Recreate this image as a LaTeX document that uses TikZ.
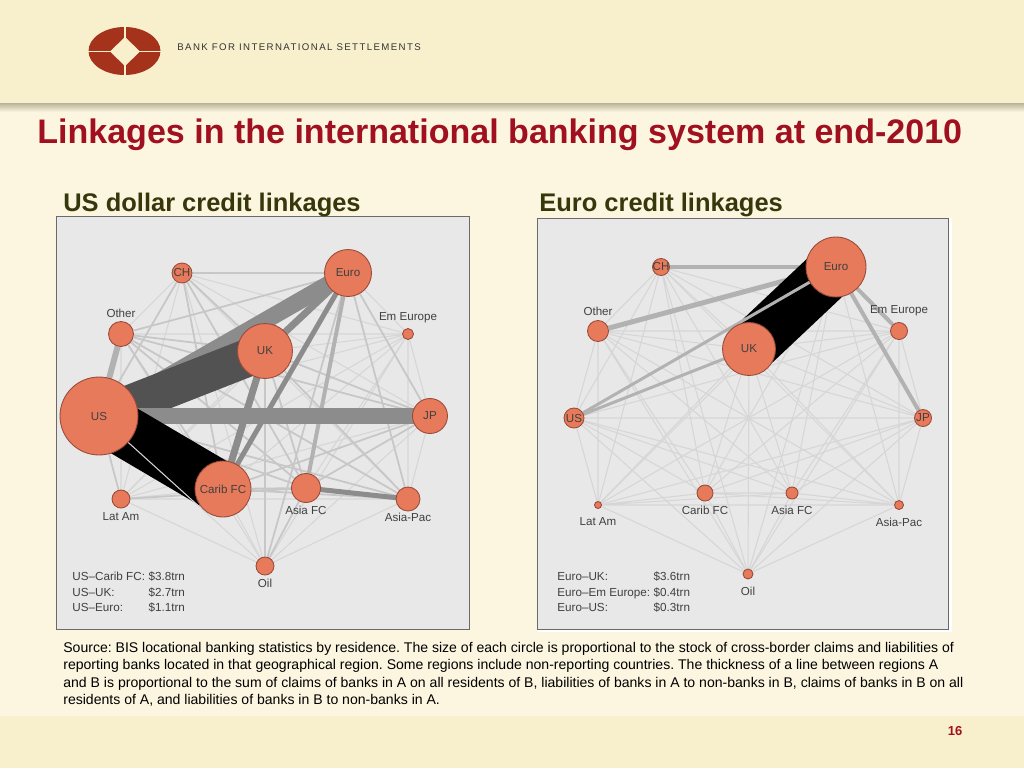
\documentclass[tikz,border=0pt]{standalone}
\usepackage{fontspec}
\setmainfont{Liberation Sans}
\definecolor{pagebg}{HTML}{FCF6E0}
\definecolor{bandbg}{HTML}{F8F0CC}
\definecolor{shadowbg}{HTML}{B9B399}
\definecolor{titlered}{HTML}{A01020}
\definecolor{headolive}{HTML}{36380C}
\definecolor{logored}{HTML}{A5321A}
\definecolor{panelbg}{HTML}{E8E8E8}
\definecolor{panelline}{HTML}{6A6A6A}
\definecolor{hubfill}{HTML}{E77A5A}
\definecolor{hubline}{HTML}{9A4A38}
\definecolor{textgrey}{HTML}{404040}
\pgfdeclarelayer{back}
\pgfdeclarelayer{links}
\pgfsetlayers{back,links,main}
\tikzset{
  hub/.style={circle,draw=hubline,line width=0.5pt,fill=hubfill,inner sep=0pt,minimum size=#1*0.04cm},
  tag/.style={inner sep=0pt,text=textgrey,font=\fontsize{6.6}{7.5}\selectfont},
  keybox/.style={inner sep=0pt,anchor=west,text=textgrey,font=\fontsize{6.65}{8.6}\selectfont},
  panel/.style={draw=panelline,line width=0.5pt,fill=panelbg},
  faint/.style={draw=black!16,line width=0.6pt},
  mid/.style={draw=black!22,line width=1pt},
  heavy/.style={draw=black!30,line width=#1*0.569pt},
  bar/.style={draw=black!45,line width=#1*0.569pt},
}
\begin{document}
\begin{tikzpicture}[x=0.02cm,y=-0.02cm]
\useasboundingbox (0,0) rectangle (1024,768);
\begin{pgfonlayer}{back}
\fill [pagebg] (0,0) rectangle (1024,768);
\shade [top color=shadowbg,bottom color=pagebg] (0,103) rectangle (1024,112);
\fill [bandbg] (0,0) rectangle (1024,103);
\fill [bandbg] (0,716) rectangle (1024,768);
\fill [logored] (124.5,51) ellipse (36 and 24);
\fill [bandbg] (110,51.5) -- (125,37) -- (140,51.5) -- (125,66) -- cycle;
\draw [bandbg,line width=0.9pt] (88,51.5) -- (162,51.5) (125,26) -- (125,76);
\fill [white] (537,218) rectangle (952,632);
\draw [panel] (56,216) rectangle (469,629);
\draw [panel] (537,218) rectangle (948,629);
\end{pgfonlayer}

\node [inner sep=0pt,anchor=west,text=black!80,font=\fontsize{5.5}{7}\selectfont\addfontfeature{LetterSpace=14.4}] (bisname) at (177,47) {BANK FOR INTERNATIONAL SETTLEMENTS};
\node [inner sep=0pt,anchor=west,text=titlered,font=\fontsize{19.37}{22}\selectfont\bfseries] (title) at (37,135) {Linkages in the international banking system at end-2010};
\node [inner sep=0pt,anchor=west,text=headolive,font=\fontsize{14.5}{16}\selectfont\bfseries] (lhead) at (63,205) {US dollar credit linkages};
\node [inner sep=0pt,anchor=west,text=headolive,font=\fontsize{14.5}{16}\selectfont\bfseries] (rhead) at (539,205) {Euro credit linkages};
\node [inner sep=0pt,anchor=north west,align=left,font=\fontsize{8}{9.85}\selectfont\frenchspacing] (source) at (63,642) {Source: BIS locational banking statistics by residence. The size of each circle is proportional to the stock of cross-border claims and liabilities of\\
reporting banks located in that geographical region. Some regions include non-reporting countries. The thickness of a line between regions A\\
and B is proportional to the sum of claims of banks in A on all residents of B, liabilities of banks in A to non-banks in B, claims of banks in B on all\\
residents of A, and liabilities of banks in B to non-banks in A.};
\node [inner sep=0pt,text=titlered,font=\fontsize{7.4}{9}\selectfont\bfseries] (pageno) at (955,731) {16};

\node [hub=10,label={[tag]center:CH}] (lCH) at (182,273) {};
\node [hub=23.5,label={[tag]center:Euro}] (lEuro) at (348,273) {};
\node [hub=12.5] (lOther) at (121,334) {};
\node [hub=27.5,label={[tag]center:UK}] (lUK) at (265,351) {};
\node [hub=5.5] (lEmEur) at (408,334) {};
\node [hub=39,label={[tag]center:US}] (lUS) at (99,416) {};
\node [hub=17.5,label={[tag]center:JP}] (lJP) at (430,416) {};
\node [hub=9] (lLatAm) at (121,499) {};
\node [hub=28,label={[tag]center:Carib FC}] (lCarib) at (223,489) {};
\node [hub=14.5] (lAsiaFC) at (306,488) {};
\node [hub=12] (lAsiaPac) at (408,499) {};
\node [hub=9] (lOil) at (265,566) {};
\node [tag] (lOtherT) at (121,313) {Other};
\node [tag] (lEmEurT) at (408,318) {Em Europe};
\node [tag] (lLatAmT) at (121,517) {Lat Am};
\node [tag] (lAsiaFCT) at (306,510) {Asia FC};
\node [tag] (lAsiaPacT) at (408,517) {Asia-Pac};
\node [tag] (lOilT) at (265,583) {Oil};
\node [keybox] (lkey) at (72,593) {\begin{tabular}{@{}l@{\hspace{2pt}}l@{}}US--Carib FC: & \$3.8trn\\ US--UK: & \$2.7trn\\ US--Euro: & \$1.1trn\end{tabular}};

\node [hub=8.5,label={[tag]center:CH}] (rCH) at (661,267) {};
\node [hub=30,label={[tag]center:Euro}] (rEuro) at (836,267) {};
\node [hub=10.5] (rOther) at (598,331) {};
\node [hub=26.5,label={[tag]center:UK}] (rUK) at (749,349) {};
\node [hub=8.5] (rEmEur) at (899,331) {};
\node [hub=10,label={[tag]center:US}] (rUS) at (574,418) {};
\node [hub=8.5,label={[tag]center:JP}] (rJP) at (923,418) {};
\node [hub=3.5] (rLatAm) at (598,505) {};
\node [hub=8] (rCarib) at (705,493) {};
\node [hub=6] (rAsiaFC) at (792,493) {};
\node [hub=4.5] (rAsiaPac) at (899,505) {};
\node [hub=5] (rOil) at (748,574) {};
\node [tag] (rOtherT) at (598,311) {Other};
\node [tag] (rEmEurT) at (899,311) {Em Europe};
\node [tag] (rLatAmT) at (598,522) {Lat Am};
\node [tag] (rCaribT) at (705,510) {Carib FC};
\node [tag] (rAsiaFCT) at (792,510) {Asia FC};
\node [tag] (rAsiaPacT) at (899,522) {Asia-Pac};
\node [tag] (rOilT) at (748,591) {Oil};
\node [keybox] (rkey) at (557,593) {\begin{tabular}{@{}l@{\hspace{2pt}}l@{}}Euro--UK: & \$3.6trn\\ Euro--Em Europe: & \$0.4trn\\ Euro--US: & \$0.3trn\end{tabular}};

\begin{pgfonlayer}{links}
\draw [faint] (lCH) -- (lOther) (lCH) -- (lEmEur) (lCH) -- (lJP) (lCH) -- (lLatAm) (lCH) -- (lAsiaPac) (lCH) -- (lOil);
\draw [faint] (lEuro) -- (lEmEur) (lEuro) -- (lLatAm) (lOther) -- (lEmEur) (lOther) -- (lLatAm) (lOther) -- (lOil);
\draw [faint] (lUK) -- (lEmEur) (lUK) -- (lLatAm) (lEmEur) -- (lUS) (lEmEur) -- (lJP) (lEmEur) -- (lLatAm) (lEmEur) -- (lCarib);
\draw [faint] (lEmEur) -- (lAsiaFC) (lEmEur) -- (lAsiaPac) (lEmEur) -- (lOil) (lJP) -- (lLatAm) (lJP) -- (lAsiaPac);
\draw [faint] (lJP) -- (lOil) (lLatAm) -- (lCarib) (lLatAm) -- (lAsiaPac) (lLatAm) -- (lOil) (lCarib) -- (lOil) (lAsiaPac) -- (lOil);
\draw [mid] (lCH) -- (lEuro) (lCH) -- (lUK) (lCH) -- (lUS) (lCH) -- (lCarib) (lCH) -- (lAsiaFC);
\draw [mid] (lEuro) -- (lOther) (lEuro) -- (lJP) (lEuro) -- (lAsiaPac) (lEuro) -- (lOil);
\draw [mid] (lOther) -- (lUK) (lOther) -- (lJP) (lOther) -- (lCarib) (lOther) -- (lAsiaFC) (lOther) -- (lAsiaPac);
\draw [mid] (lUK) -- (lJP) (lUK) -- (lAsiaFC) (lUK) -- (lAsiaPac) (lUK) -- (lOil);
\draw [mid] (lUS) -- (lLatAm) (lUS) -- (lAsiaFC) (lUS) -- (lAsiaPac);
\draw [mid] (lJP) -- (lCarib) (lJP) -- (lAsiaFC) (lLatAm) -- (lAsiaFC) (lCarib) -- (lAsiaFC) (lCarib) -- (lAsiaPac) (lAsiaFC) -- (lOil);
\draw [heavy=4] (lEuro) -- (lAsiaFC);
\draw [heavy=6] (lOther.center) -- (lUS.center);
\draw [bar=7] (lUK.center) -- (lCarib.center);
\draw [bar=5] (lEuro.center) -- (lCarib.center);
\draw [bar=5] (lAsiaFC.center) -- (lAsiaPac.center);
\draw [bar=7] (lUK.center) -- (lEuro.center);
\draw [bar=17] (lUS.center) -- (lEuro.center);
\draw [draw=black!68,line width=21.5pt] (lUS.center) -- (lUK.center);
\draw [bar=16] (lUS.center) -- (lJP.center);
\draw [black,line width=29.6pt] (lUS.center) -- (lCarib.center);
\draw [faint] (lUS) -- (lOil);

\draw [faint] (rCH) -- (rOther) (rCH) -- (rUK) (rCH) -- (rEmEur) (rCH) -- (rUS) (rCH) -- (rJP) (rCH) -- (rLatAm);
\draw [faint] (rCH) -- (rCarib) (rCH) -- (rAsiaFC) (rCH) -- (rAsiaPac) (rCH) -- (rOil);
\draw [faint] (rEuro) -- (rLatAm) (rEuro) -- (rCarib) (rEuro) -- (rAsiaFC) (rEuro) -- (rAsiaPac) (rEuro) -- (rOil);
\draw [faint] (rOther) -- (rUK) (rOther) -- (rEmEur) (rOther) -- (rUS) (rOther) -- (rJP) (rOther) -- (rLatAm);
\draw [faint] (rOther) -- (rCarib) (rOther) -- (rAsiaFC) (rOther) -- (rAsiaPac) (rOther) -- (rOil);
\draw [faint] (rUK) -- (rEmEur) (rUK) -- (rJP) (rUK) -- (rLatAm) (rUK) -- (rCarib) (rUK) -- (rAsiaFC) (rUK) -- (rAsiaPac) (rUK) -- (rOil);
\draw [faint] (rEmEur) -- (rUS) (rEmEur) -- (rJP) (rEmEur) -- (rLatAm) (rEmEur) -- (rCarib) (rEmEur) -- (rAsiaFC) (rEmEur) -- (rAsiaPac) (rEmEur) -- (rOil);
\draw [faint] (rUS) -- (rJP) (rUS) -- (rLatAm) (rUS) -- (rCarib) (rUS) -- (rAsiaFC) (rUS) -- (rAsiaPac) (rUS) -- (rOil);
\draw [faint] (rJP) -- (rLatAm) (rJP) -- (rCarib) (rJP) -- (rAsiaFC) (rJP) -- (rAsiaPac) (rJP) -- (rOil);
\draw [faint] (rLatAm) -- (rCarib) (rLatAm) -- (rAsiaFC) (rLatAm) -- (rAsiaPac) (rLatAm) -- (rOil);
\draw [faint] (rCarib) -- (rAsiaFC) (rCarib) -- (rAsiaPac) (rCarib) -- (rOil) (rAsiaFC) -- (rAsiaPac) (rAsiaFC) -- (rOil) (rAsiaPac) -- (rOil);
\draw [heavy=5] (rOther) -- (rEuro);
\draw [heavy=4] (rCH) -- (rEuro);
\draw [heavy=4] (rEuro) -- (rEmEur);
\draw [heavy=4] (rEuro) -- (rJP);
\draw [heavy=3] (rUS) -- (rUK);
\draw [black,line width=29.5pt] (rUK.center) -- (rEuro.center);
\draw [heavy=3] (rUS) -- (rEuro);
\end{pgfonlayer}
\end{tikzpicture}
\end{document}
